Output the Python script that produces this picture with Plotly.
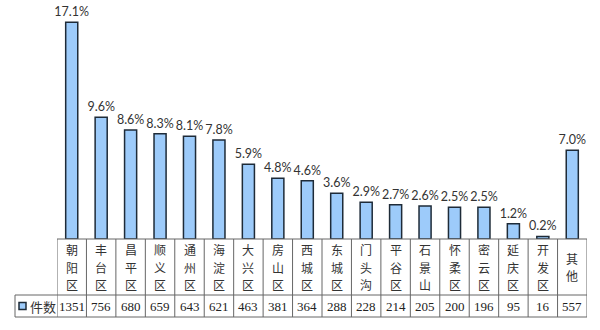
import plotly.graph_objects as go

# District complaint shares (%) and counts
districts = ["朝阳区", "丰台区", "昌平区", "顺义区", "通州区", "海淀区", "大兴区", "房山区", "西城区",
             "东城区", "门头沟", "平谷区", "石景山", "怀柔区", "密云区", "延庆区", "开发区", "其他"]
shares = [17.1, 9.6, 8.6, 8.3, 8.1, 7.8, 5.9, 4.8, 4.6, 3.6, 2.9, 2.7, 2.6, 2.5, 2.5, 1.2, 0.2, 7.0]
counts = [1351, 756, 680, 659, 643, 621, 463, 381, 364, 288, 228, 214, 205, 200, 196, 95, 16, 557]
series_name = "件数"

W, H = 600, 330
# table geometry in pixels
tbl_left, col_left, col_right = 15, 57, 587
row_top, row_mid, row_bot = 239, 295, 317
char_step = 17.5

def py(p):
    return 1 - p / H

def px(p):
    return p / W

n = len(districts)
fig = go.Figure()
fig.add_trace(go.Bar(
    x=list(range(n)), y=shares,
    width=0.41,
    marker=dict(color="#9DCBFA", line=dict(color="#1E2B38", width=1.5)),
    text=[f"{v:.1f}%" for v in shares],
    textposition="outside",
    textfont=dict(family="Lato, Carlito, sans-serif", size=12.5, color="#333333"),
    constraintext="none",
    cliponaxis=False,
    showlegend=False,
))

shapes = []
line = dict(color="#666666", width=1)
# horizontal rules of the table
shapes.append(dict(type="line", xref="paper", yref="paper", x0=px(col_left), x1=px(col_right),
                   y0=py(row_top), y1=py(row_top), line=line))
for yy in (row_mid, row_bot):
    shapes.append(dict(type="line", xref="paper", yref="paper", x0=px(tbl_left), x1=px(col_right),
                       y0=py(yy), y1=py(yy), line=line))
# left border of the series label cell
shapes.append(dict(type="line", xref="paper", yref="paper", x0=px(tbl_left), x1=px(tbl_left),
                   y0=py(row_mid), y1=py(row_bot), line=line))
# column separators
for i in range(n + 1):
    shapes.append(dict(type="line", xref="x", yref="paper", x0=i - 0.5, x1=i - 0.5,
                       y0=py(row_top), y1=py(row_bot), line=line))
# legend key
shapes.append(dict(type="rect", xref="paper", yref="paper", x0=px(19), x1=px(26),
                   y0=py(309.5), y1=py(302.5), fillcolor="#9DCBFA",
                   line=dict(color="#1E2B38", width=1.5)))

annotations = []
cjk = "Noto Sans CJK SC"
cell_mid = (row_top + row_mid) / 2
for i, name in enumerate(districts):
    # category names are written vertically, one character per line
    k = len(name)
    for j, ch in enumerate(name):
        yc = cell_mid + (j - (k - 1) / 2) * char_step
        annotations.append(dict(
            x=i, xref="x", y=py(yc), yref="paper", yanchor="middle", xanchor="center",
            text=ch, showarrow=False,
            font=dict(family=cjk, size=12, color="#333333"),
        ))
    annotations.append(dict(
        x=i, xref="x", y=py(306.5), yref="paper", yanchor="middle", xanchor="center",
        text=str(counts[i]), showarrow=False,
        font=dict(family="Liberation Serif, serif", size=13, color="#222222"),
    ))
annotations.append(dict(
    x=px(28), xref="paper", y=py(306), yref="paper", yanchor="middle", xanchor="left",
    text=series_name, showarrow=False,
    font=dict(family=cjk, size=13, color="#333333"),
))

fig.update_layout(
    width=W, height=H,
    margin=dict(l=0, r=0, t=0, b=0),
    paper_bgcolor="white", plot_bgcolor="white",
    xaxis=dict(domain=[px(col_left), px(col_right)], range=[-0.5, n - 0.5],
               showticklabels=False, showgrid=False, zeroline=False, showline=False),
    yaxis=dict(domain=[py(row_top), 1], range=[0, row_top / 12.68],
               showticklabels=False, showgrid=False, zeroline=False, showline=False),
    shapes=shapes,
    annotations=annotations,
    bargap=0.59,
)

fig.write_html("out.html")
